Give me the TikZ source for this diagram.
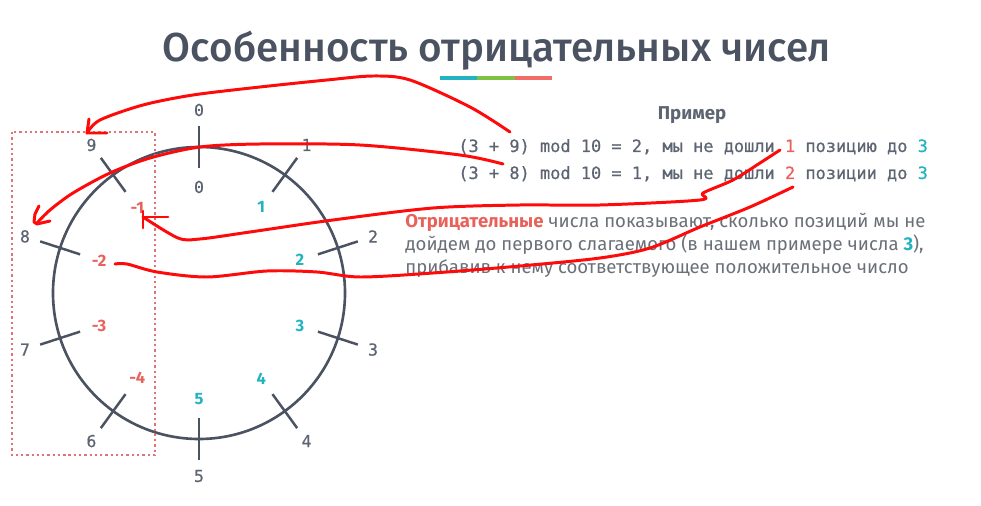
\documentclass[tikz,border=0pt]{standalone}
\usepackage{fontspec}
\setmainfont{Fira Sans}
\newfontfamily\monofont{DejaVu Sans Mono}
\newfontfamily\titlefont{Fira Sans Medium}
\newfontfamily\monobold{DejaVu Sans Mono}[FakeBold=0.6]
\usetikzlibrary{positioning}

\definecolor{slate}{HTML}{4B5362}
\definecolor{txtgray}{HTML}{6A6F78}
\definecolor{tealc}{HTML}{22B3C2}
\definecolor{limec}{HTML}{7DC242}
\definecolor{salmon}{HTML}{F26D68}
\definecolor{negred}{HTML}{E8625C}
\definecolor{boxred}{HTML}{E07474}
\definecolor{penred}{HTML}{FF0A0A}

\begin{document}
\begin{tikzpicture}[x=0.02cm, y=-0.02cm,
  title/.style={font=\titlefont\fontsize{23}{28}\selectfont, text=slate, inner sep=0pt},
  dialtick/.style={draw=slate, line width=1.4pt},
  outlbl/.style={font=\monobold\fontsize{9.4}{11}\selectfont, text=slate!90, inner sep=0pt},
  poslbl/.style={font=\bfseries\fontsize{9.4}{11}\selectfont, text=tealc, inner sep=0pt},
  neglbl/.style={font=\bfseries\fontsize{9.4}{11}\selectfont, text=negred, inner sep=0pt},
  monoline/.style={font=\monobold\fontsize{9.65}{11}\selectfont, text=slate!90,
                   anchor=base west, inner sep=0pt},
  para/.style={font=\fontsize{10.55}{13}\selectfont, text=txtgray, anchor=base west, inner sep=0pt},
  pen/.style={draw=penred, line width=1.7pt, line cap=round, line join=round}
]
\useasboundingbox (0,0) rectangle (981,506);

%% Title and coloured underline
\node[title, anchor=base] (title) at (497,62) {Особенность отрицательных чисел};
\fill[tealc] (440,76) rectangle (477,80);
\fill[limec] (477,76) rectangle (515,80);
\fill[salmon] (515,76) rectangle (552,80);

%% Dial: circle, ticks, outer and inner numbers
\begin{scope}[shift={(199,293)}]
  \draw[slate, line width=1.5pt] (0,0) circle [radius=146];
  \foreach \i in {0,...,9} {
    \draw[dialtick] (-90+36*\i:125) -- (-90+36*\i:167);
    \node[outlbl] (out\i) at (-90+36*\i:183) {\i};
  }
  \node[outlbl] (zero) at (-90:106) {0};
  \foreach \v/\a in {1/-54, 2/-18, 3/18, 4/54, 5/90}
    \node[poslbl] (pos\v) at (\a:106) {\v};
  \foreach \v/\a in {1/234, 2/198, 3/162, 4/126}
    \node[neglbl] (neg\v) at (\a:105) {-\v};
\end{scope}

%% Negative part of the dial
\draw[boxred, line width=1.1pt, dash pattern=on 1.3pt off 1.7pt] (12,132) rectangle (155,455);

%% Example
\node[font=\bfseries\fontsize{10.6}{12}\selectfont, text=slate!90] (example) at (692,115) {Пример};
\node[monoline] (line1) at (458,152) {(3 + 9) mod 10 = 2, мы не дошли \textcolor{negred}{1} позицию до \textcolor{tealc}{3}};
\node[monoline] (line2) at (458,179) {(3 + 8) mod 10 = 1, мы не дошли \textcolor{negred}{2} позиции до \textcolor{tealc}{3}};

%% Explanation
\node[para] (para1) at (405,228) {\textcolor{negred}{\bfseries Отрицательные} числа показывают, сколько позиций мы не};
\node[para] (para2) at (405,251) {дойдем до первого слагаемого (в нашем примере числа \textcolor{tealc}{\bfseries 3}),};
\node[para] (para3) at (405,274) {прибавив к нему соответствующее положительное число};

%% Hand-drawn marks
\draw[pen] plot[smooth, tension=0.5] coordinates {(510,132) (470,107) (410,80) (373,76)
  (327,80) (260,87) (193,95) (143,105) (100,120) (87,133)};
\draw[pen] (89,119) -- (87,133) -- (107,133);
\draw[pen] plot[smooth, tension=0.5] coordinates {(503,164) (460,155) (360,145) (260,144)
  (200,147) (150,158) (110,173) (73,193) (50,210) (37,223)};
\draw[pen] (39,206) -- (35,214) -- (34,222) -- (37,224) -- (50,221);
\draw[pen] plot[smooth, tension=0.5] coordinates {(143,217) (178,238) (200,239) (250,232)
  (333,220) (433,208) (520,205) (600,205) (700,200) (703,193) (733,180) (760,163) (780,150)};
\draw[pen] (143,217) -- (168,217);
\draw[pen] (143,211) -- (143,228);
\draw[pen] plot[smooth, tension=0.5] coordinates {(115,264) (127,264) (157,272) (207,277)
  (267,271) (317,272) (360,277) (433,273) (520,266) (600,258) (650,248) (700,227)
  (750,207) (793,187)};
\end{tikzpicture}
\end{document}
